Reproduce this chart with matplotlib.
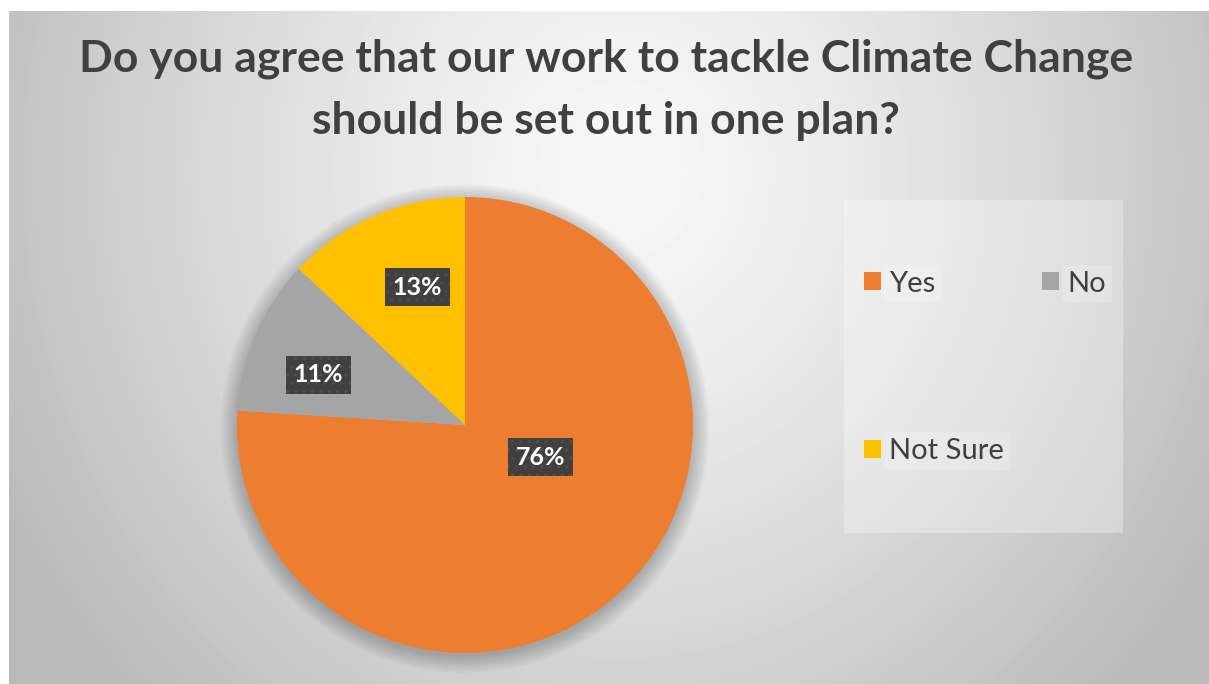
"""
Pie chart: agreement that climate change work should be set out in one plan
"""

import numpy as np
import matplotlib.pyplot as plt
from matplotlib.patches import Rectangle, Circle

### data
categories = ['Yes', 'No', 'Not Sure']
shares = [76, 11, 13]
colors = ['#ED7D31', '#A5A5A5', '#FFC000']
title = 'Do you agree that our work to tackle Climate Change\nshould be set out in one plan?'

W, H, DPI = 1209, 684, 100
plt.rcParams['font.family'] = ['Lato', 'DejaVu Sans']

fig = plt.figure(figsize=(W/DPI, H/DPI), dpi=DPI)
fig.patch.set_facecolor('white')

# background gradient (chart area starts a few px in from top/left)
bx0, by0 = 9, 11
bg = fig.add_axes([bx0/W, 0, (W-bx0)/W, (H-by0)/H])
xx, yy = np.meshgrid(np.arange(bx0, W), np.arange(by0, H))
r = np.sqrt(((xx-620)/600)**2 + ((yy-170)/650)**2)
val = 248 - 52*np.clip(r, 0, 1.15)**1.3
bg.imshow(val, cmap='gray', vmin=0, vmax=255, aspect='auto', interpolation='bilinear')
bg.set_axis_off()

fig.text(606/W, 1 - 90/H, title, ha='center', va='center', fontsize=32,
         fontweight='bold', color='#404040', linespacing=1.66)

# pie
cx, cy, R = 465, 425, 228
ax = fig.add_axes([(cx-R)/W, (H-cy-R)/H, 2*R/W, 2*R/H])
for k in range(10):
    ax.add_patch(Circle((0.0, -0.015), 1.0 + 0.008*k, color='black', alpha=0.022,
                        lw=0, zorder=0, clip_on=False))
wedges, texts, autotexts = ax.pie(shares, colors=colors, startangle=90, counterclock=False,
                                  autopct='%1.0f%%', pctdistance=0.6,
                                  textprops=dict(color='white', fontsize=18, fontweight='bold'),
                                  wedgeprops=dict(lw=0, clip_on=False))
# Excel places the labels a little differently from the wedge mid-angle
label_pos = [(0.36, -23), (0.68, 161), (0.64, 109)]
for t, (d, a) in zip(autotexts, label_pos):
    t.set_position((d*np.cos(np.radians(a)), d*np.sin(np.radians(a))))
    t.set_ha('center'); t.set_va('center')
    t.set_bbox(dict(boxstyle='square,pad=0.3', fc='#404040', ec='#4e4e4e', hatch='..', lw=0))
ax.set_xlim(-1.0, 1.0)
ax.set_ylim(-1.0, 1.0)
ax.set_aspect('equal')
ax.set_axis_off()

# legend frame
fig.patches.append(Rectangle((844/W, 1-533/H), 279/W, 333/H, transform=fig.transFigure,
                             fc='white', alpha=0.3, lw=0))
order = [0, 2, 1]
leg = fig.legend([wedges[i] for i in order], [categories[i] for i in order],
                 loc='upper left', bbox_to_anchor=(849/W, 1-256/H), ncol=2, frameon=False,
                 fontsize=21, labelcolor='#404040', handlelength=0.58, handleheight=0.58,
                 handletextpad=0.3, columnspacing=1.3, labelspacing=4.85, borderpad=0)
for t in leg.get_texts():
    t.set_bbox(dict(fc='white', alpha=0.2, lw=0, pad=4))

fig.savefig('out.png', dpi=DPI)
